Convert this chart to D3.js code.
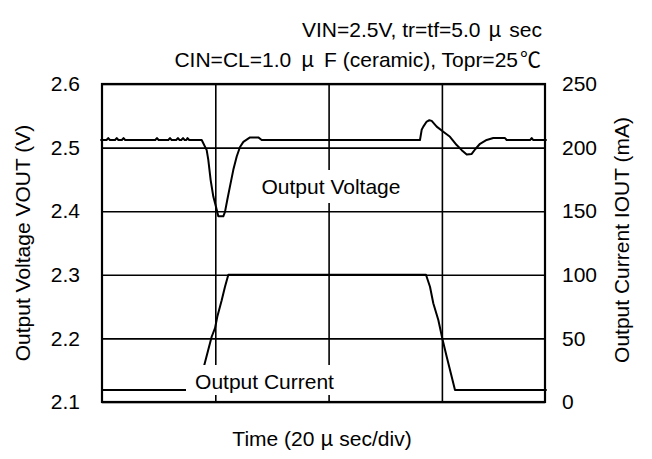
<!DOCTYPE html>
<html><head><meta charset="utf-8">
<script src="https://cdn.jsdelivr.net/npm/d3@7/dist/d3.min.js"></script>
<style>body{margin:0;background:#fff}svg{display:block}text{font-family:"Liberation Sans",Arial,sans-serif;fill:#000}</style>
</head><body><svg id="c" width="652" height="459"></svg>
<script>
// ---- data ----
const voltTicks = [2.1, 2.2, 2.3, 2.4, 2.5, 2.6];
const currTicks = [0, 50, 100, 150, 200, 250];
const timeGrid = [20, 40, 60];           // µs (20 µs/div)
const voltageTime  = [-0.3, 0, 0.8, 1.1, 1.4, 2.3, 2.6, 2.9, 3.5, 3.8, 4.1, 9.4, 9.7, 10.0, 11.7, 12.0, 12.3, 13.1, 13.4, 13.7, 14.0, 14.3, 14.6, 14.9, 15.1, 15.4, 17.6, 18.48, 18.76, 19.18, 19.65, 20.12, 20.53, 21.41, 21.71, 22.12, 22.59, 23.18, 23.78, 24.36, 24.95, 26.13, 27.59, 28.19, 56.13, 56.43, 56.72, 57.32, 57.78, 58.2, 59.08, 60.25, 61.43, 62.61, 63.5, 64.38, 65.26, 65.84, 66.73, 67.9, 69.07, 71.14, 71.44, 75.6, 75.85, 76.1, 78.5];
const voltageValue = [2.512, 2.512, 2.512, 2.515, 2.512, 2.512, 2.515, 2.512, 2.512, 2.515, 2.512, 2.512, 2.515, 2.512, 2.512, 2.515, 2.512, 2.512, 2.515, 2.512, 2.512, 2.515, 2.512, 2.512, 2.515, 2.512, 2.512, 2.496, 2.481, 2.449, 2.423, 2.407, 2.392, 2.392, 2.399, 2.418, 2.439, 2.465, 2.486, 2.501, 2.509, 2.516, 2.516, 2.512, 2.512, 2.528, 2.533, 2.541, 2.543, 2.542, 2.533, 2.525, 2.517, 2.504, 2.496, 2.489, 2.490, 2.497, 2.506, 2.512, 2.515, 2.515, 2.512, 2.512, 2.515, 2.512, 2.512];
const currentTime  = [0, 16.95, 18.06, 18.76, 19.36, 19.95, 20.35, 21.13, 21.71, 22.3, 57.19, 57.9, 58.48, 59.37, 60.07, 60.85, 61.73, 62.31, 78.5];
const currentValue = [9.5, 9.5, 29, 41, 51.3, 58, 67, 80, 90.6, 100, 100, 90.6, 77.6, 64.5, 50, 35.6, 19.9, 9.5, 9.5];

// ---- layout ----
const L = 102, R = 545, T = 84, B = 402;
const svg = d3.select("#c");
const x = d3.scaleLinear().domain([0, 78.2]).range([L, R]);
const yV = d3.scaleLinear().domain([2.1, 2.6]).range([B, T]);
const yI = d3.scaleLinear().domain([0, 250]).range([B, T]);
const FS = 21;
const FF = "Liberation Sans, Arial, sans-serif";

// grid
const gy = svg.append("g").attr("transform", `translate(${L},0)`)
  .call(d3.axisLeft(yV).tickValues(voltTicks).tickSize(-(R - L)).tickFormat(""));
gy.select(".domain").remove();
gy.selectAll("line").attr("stroke", "#000").attr("stroke-width", 1.6);
const gx = svg.append("g").attr("transform", `translate(0,${B})`)
  .call(d3.axisBottom(x).tickValues(timeGrid).tickSize(-(B - T)).tickFormat(""));
gx.select(".domain").remove();
gx.selectAll("line").attr("stroke", "#000").attr("stroke-width", 1.6);

// tick labels
const al = svg.append("g").attr("transform", `translate(${L},0)`)
  .call(d3.axisLeft(yV).tickValues(voltTicks).tickSize(0).tickPadding(22).tickFormat(d3.format(".1f")));
al.select(".domain").remove();
al.selectAll("text").attr("font-size", FS).attr("font-family", FF);
const ar = svg.append("g").attr("transform", `translate(${R},0)`)
  .call(d3.axisRight(yI).tickValues(currTicks).tickSize(0).tickPadding(17));
ar.select(".domain").remove();
ar.selectAll("text").attr("font-size", FS).attr("font-family", FF);

// border
svg.append("rect").attr("x", L).attr("y", T).attr("width", R - L).attr("height", B - T)
  .attr("fill", "none").attr("stroke", "#000").attr("stroke-width", 2.2);

// data lines
const vData = voltageTime.map((t, i) => [t, voltageValue[i]]);
const iData = currentTime.map((t, i) => [t, currentValue[i]]);
svg.append("path").datum(vData).attr("fill", "none").attr("stroke", "#000").attr("stroke-width", 2)
  .attr("stroke-linejoin", "round")
  .attr("d", d3.line().x(d => x(d[0])).y(d => yV(d[1])));
svg.append("path").datum(iData).attr("fill", "none").attr("stroke", "#000").attr("stroke-width", 2)
  .attr("stroke-linejoin", "round")
  .attr("d", d3.line().x(d => x(d[0])).y(d => yI(d[1])));

// in-plot labels with white backgrounds
function label(txt, cx, by, bg) {
  svg.append("rect").attr("x", bg[0]).attr("y", bg[1]).attr("width", bg[2]).attr("height", bg[3]).attr("fill", "#fff");
  svg.append("text").attr("x", cx).attr("y", by).attr("text-anchor", "middle").attr("font-size", FS).text(txt);
}
label("Output Voltage", 331, 194, [254, 170, 154, 33]);
label("Output Current", 264.5, 389, [186, 365, 152, 30]);

// axis titles
svg.append("text").attr("transform", "translate(30,243) rotate(-90)").attr("text-anchor", "middle")
  .attr("font-size", FS).text("Output Voltage VOUT (V)");
svg.append("text").attr("transform", "translate(629,240) rotate(-90)").attr("text-anchor", "middle")
  .attr("font-size", FS).text("Output Current IOUT (mA)");

// x title
const xt = svg.append("text").attr("x", 322).attr("y", 446).attr("text-anchor", "middle").attr("font-size", FS);
xt.append("tspan").text("Time (20 ");
xt.append("tspan").attr("font-family", "Noto Sans CJK JP").text("μ");
xt.append("tspan").text(" sec/div)");

// condition notes
const n1 = svg.append("text").attr("x", 542).attr("y", 37).attr("text-anchor", "end").attr("font-size", FS);
n1.append("tspan").text("VIN=2.5V, tr=tf=5.0 ");
n1.append("tspan").attr("font-family", "Noto Sans CJK JP").attr("dx", 2).text("μ");
n1.append("tspan").attr("dx", 2).text(" sec");
const n2 = svg.append("text").attr("x", 541).attr("y", 67).attr("text-anchor", "end").attr("font-size", FS);
n2.append("tspan").text("CIN=CL=1.0 ");
n2.append("tspan").attr("font-family", "Noto Sans CJK JP").attr("dx", 4).text("μ");
n2.append("tspan").attr("dx", 4).text(" F (ceramic), Topr=25");
n2.append("tspan").attr("font-family", "Noto Sans CJK JP").attr("dx", 2).text("℃");
</script></body></html>
